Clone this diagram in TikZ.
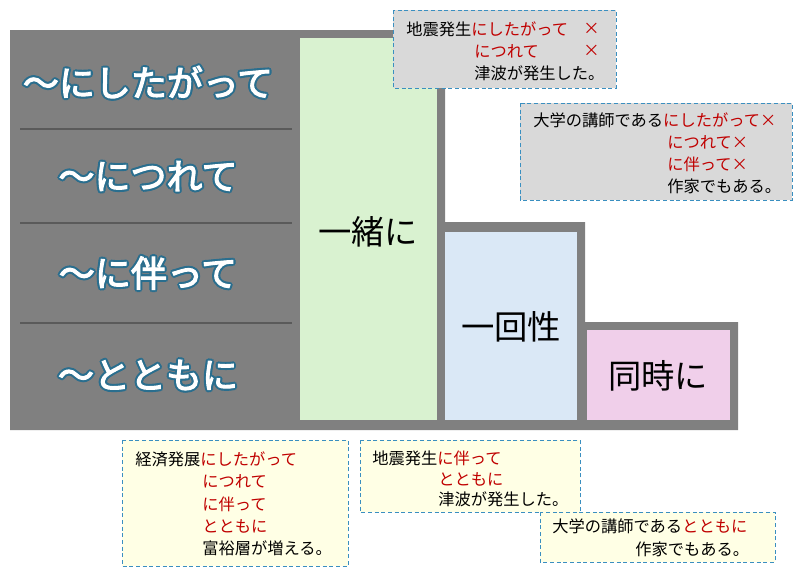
\documentclass[tikz,border=0pt]{standalone}
\usepackage{fontspec}
\setmainfont{Noto Sans CJK JP}
\newfontfamily\jpbold[FakeBold=3]{Noto Sans CJK JP}
\definecolor{gbg}{HTML}{808080}
\definecolor{gsep}{HTML}{5A5A5A}
\definecolor{cgreen}{HTML}{D9F2D0}
\definecolor{cblue}{HTML}{DAE8F6}
\definecolor{cpink}{HTML}{F0CFEA}
\definecolor{cgray}{HTML}{D9D9D9}
\definecolor{cyel}{HTML}{FFFFE5}
\definecolor{cbord}{HTML}{3A8FC0}
\definecolor{cred}{HTML}{C00000}
\definecolor{outl}{HTML}{2A6E8E}
\newcommand{\rd}[1]{\textcolor{cred}{#1}}
\tikzset{
  callgray/.style={fill=cgray,draw=cbord,densely dashed,line width=0.6pt},
  callyel/.style={fill=cyel,draw=cbord,densely dashed,line width=0.6pt},
  ln/.style={anchor=west,inner sep=0pt,font=\fontsize{12.2}{14}\selectfont},
  coltxt/.style={font=\fontsize{25}{28}\selectfont},
  sep/.style={draw=gsep,line width=2.2pt},
}
\newcommand{\outlbl}[3]{%
  \foreach \dx/\dy in {1.6/0,-1.6/0,0/1.6,0/-1.6,1.1/1.1,-1.1/1.1,1.1/-1.1,-1.1/-1.1}
    \node[text=outl,font=\fontsize{27}{30}\selectfont\jpbold] at ([xshift=\dx pt,yshift=\dy pt]#2) {#3};
  \node[text=white,font=\fontsize{27}{30}\selectfont\jpbold] (#1) at (#2) {#3};}
\begin{document}
\begin{tikzpicture}[x=0.75pt,y=-0.75pt]
\useasboundingbox (0,0) rectangle (800,576);
\fill[gbg] (10,30) -- (445,30) -- (445,222) -- (585,222) -- (585,322) -- (738,322) -- (738,430) -- (10,430) -- cycle;
\fill[cgreen] (300,38) rectangle (437,420);
\fill[cblue] (445,232) rectangle (577,420);
\fill[cpink] (587,330) rectangle (730,420);
\draw[sep] (20,129) -- (292,129);
\draw[sep] (20,223) -- (292,223);
\draw[sep] (20,323) -- (292,323);
\outlbl{l1}{148,82}{～にしたがって}
\outlbl{l2}{148,176}{～につれて}
\outlbl{l3}{148,273}{～に伴って}
\outlbl{l4}{148,375}{～とともに}
\node[coltxt] (c1) at (368,232) {一緒に};
\node[coltxt] (c2) at (511,327) {一回性};
\node[coltxt] (c3) at (658,376) {同時に};
% callouts
\draw[callgray] (393,10) rectangle (616,88);
\node[ln] (a1) at (406,29) {地震発生\rd{にしたがって}};
\node[ln] (a1x) at (583,29) {\rd{×}};
\node[ln] (a2) at (474,51) {\rd{につれて}};
\node[ln] (a2x) at (583,51) {\rd{×}};
\node[ln] (a3) at (474,73) {津波が発生した。};
\draw[callgray] (520,103) rectangle (792,200);
\node[ln] (b1) at (533,120) {大学の講師である\rd{にしたがって×}};
\node[ln] (b2) at (667,142) {\rd{につれて×}};
\node[ln] (b3) at (667,164) {\rd{に伴って×}};
\node[ln] (b4) at (667,186) {作家でもある。};
\draw[callyel] (122,440) rectangle (348,566);
\node[ln] (d1) at (135,459) {経済発展\rd{にしたがって}};
\node[ln] (d2) at (202,481) {\rd{につれて}};
\node[ln] (d3) at (202,504) {\rd{に伴って}};
\node[ln] (d4) at (202,526) {\rd{とともに}};
\node[ln] (d5) at (202,548) {富裕層が増える。};
\draw[callyel] (360,440) rectangle (580,512);
\node[ln] (e1) at (372,458) {地震発生\rd{に伴って}};
\node[ln] (e2) at (438,479) {\rd{とともに}};
\node[ln] (e3) at (438,499) {津波が発生した。};
\draw[callyel] (540,512) rectangle (775,562);
\node[ln] (f1) at (552,526) {大学の講師である\rd{とともに}};
\node[ln] (f2) at (635,549) {作家でもある。};
\end{tikzpicture}
\end{document}
